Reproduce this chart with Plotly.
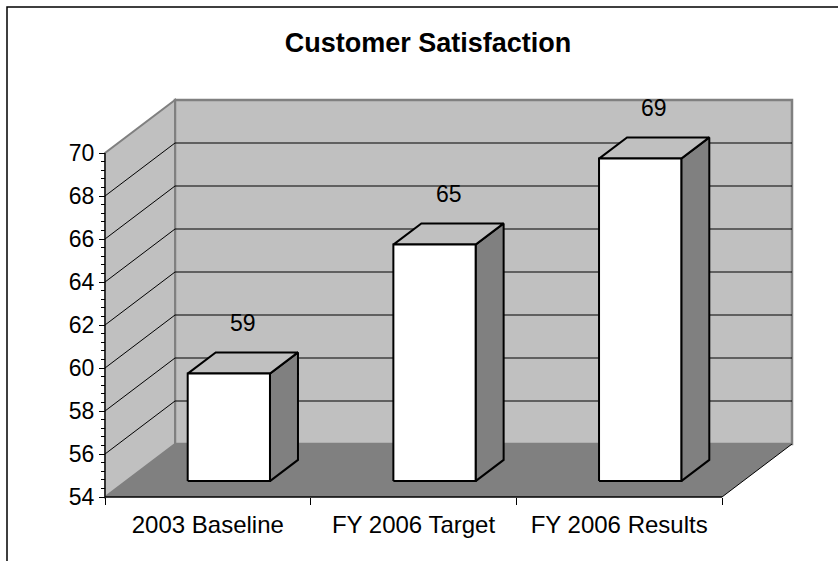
import plotly.graph_objects as go

# ---- data ----
categories = ["2003 Baseline", "FY 2006 Target", "FY 2006 Results"]
scores = [59, 65, 69]
y_ticks = [54, 56, 58, 60, 62, 64, 66, 68, 70]
y_min, y_max = 54, 70

# ---- 3D frame geometry (in axis units) ----
PX_PER_CAT = 617 / 3.0     # horizontal pixels per category slot
PX_PER_UNIT = 21.5         # vertical pixels per score point
DX = 70 / PX_PER_CAT       # depth vector, x component (category units)
DY = 53 / PX_PER_UNIT      # depth vector, y component (score units)
BAR_LO, BAR_HI = 0.3, 0.7  # bar footprint within a category slot
Z_LO, Z_HI = 0.3, 0.7      # bar footprint along depth

W, H = 838, 561
ML, MR, MT, MB = 95, 33, 90, 51
ORIGIN_PX = (105, 497)     # where (x=0, score=54) sits on screen
PW, PH = W - ML - MR, H - MT - MB

x_range = [(ML - ORIGIN_PX[0]) / PX_PER_CAT, (W - MR - ORIGIN_PX[0]) / PX_PER_CAT]
y_range = [y_min - (H - MB - ORIGIN_PX[1]) / PX_PER_UNIT,
           y_min + (ORIGIN_PX[1] - MT) / PX_PER_UNIT]

WALL = "#C0C0C0"
FLOOR = "#808080"
EDGE_GRAY = "#808080"


def proj(x, v, z):
    """Project a point (category x, score v, depth z) onto the chart plane."""
    return x + z * DX, v + z * DY


def path(points):
    pts = [proj(*p) for p in points]
    return "M " + " L ".join(f"{a},{b}" for a, b in pts) + " Z"


def seg(p0, p1, color, width, layer="below"):
    (x0, y0), (x1, y1) = proj(*p0), proj(*p1)
    return dict(type="line", xref="x", yref="y", x0=x0, y0=y0, x1=x1, y1=y1,
                line=dict(color=color, width=width), layer=layer)


n = len(categories)
shapes = []
# back wall
shapes.append(dict(type="path", xref="x", yref="y", layer="below",
                   path=path([(0, y_min, 1), (n, y_min, 1), (n, y_max, 1), (0, y_max, 1)]),
                   fillcolor=WALL, line=dict(color=EDGE_GRAY, width=2.5)))
# side wall
shapes.append(dict(type="path", xref="x", yref="y", layer="below",
                   path=path([(0, y_min, 0), (0, y_min, 1), (0, y_max, 1), (0, y_max, 0)]),
                   fillcolor=WALL, line=dict(color=EDGE_GRAY, width=2)))
# gridlines on both walls
for v in y_ticks[1:-1]:
    shapes.append(seg((0, v, 1), (n, v, 1), "black", 1))
    shapes.append(seg((0, v, 0), (0, v, 1), "black", 1))
# floor
shapes.append(dict(type="path", xref="x", yref="y", layer="below",
                   path=path([(0, y_min, 0), (n, y_min, 0), (n, y_min, 1), (0, y_min, 1)]),
                   fillcolor=FLOOR, line=dict(width=0)))
shapes.append(seg((n, y_min, 0), (n, y_min, 1), "black", 1))
# axis lines along the front edges
shapes.append(seg((0, y_min, 0), (n, y_min, 0), "black", 1.5, "above"))
shapes.append(seg((0, y_min, 0), (0, y_max, 0), "black", 1.2, "above"))

# outer chart border
shapes.append(dict(type="rect", xref="paper", yref="paper",
                   x0=(7 - ML) / PW, x1=(W + 10 - ML) / PW,
                   y0=-(MB + 12) / PH, y1=(H - MB - 7) / PH,
                   line=dict(color="black", width=1.5), fillcolor="rgba(0,0,0,0)"))

fig = go.Figure()


def face(points, color):
    pts = [proj(*p) for p in points] + [proj(*points[0])]
    fig.add_trace(go.Scatter(x=[p[0] for p in pts], y=[p[1] for p in pts],
                             mode="lines", fill="toself", fillcolor=color,
                             line=dict(color="black", width=2),
                             hoverinfo="skip", showlegend=False))


for i, v in enumerate(scores):
    x0, x1 = i + BAR_LO, i + BAR_HI
    # right side
    face([(x1, y_min, Z_LO), (x1, y_min, Z_HI), (x1, v, Z_HI), (x1, v, Z_LO)], FLOOR)
    # top
    face([(x0, v, Z_LO), (x1, v, Z_LO), (x1, v, Z_HI), (x0, v, Z_HI)], WALL)
    # front
    face([(x0, y_min, Z_LO), (x1, y_min, Z_LO), (x1, v, Z_LO), (x0, v, Z_LO)], "white")

FONT = "Liberation Sans, Arial, sans-serif"

annotations = []
for i, v in enumerate(scores):
    ax, ay = proj(i + 0.5, v, 0.5)
    annotations.append(dict(x=ax, y=ay, xref="x", yref="y", text=str(v),
                            showarrow=False, yshift=40, yanchor="middle",
                            font=dict(family=FONT, size=23, color="black")))

minor_y = [round(y_min + 0.4 * k, 1) for k in range(int((y_max - y_min) / 0.4) + 1)]

fig.update_layout(
    width=W, height=H, autosize=False,
    margin=dict(l=ML, r=MR, t=MT, b=MB, pad=0),
    paper_bgcolor="white", plot_bgcolor="white",
    title=dict(text="<b>Customer Satisfaction</b>", x=428 / W, y=1 - 43 / H,
               xref="container", yref="container",
               xanchor="center", yanchor="middle",
               font=dict(family=FONT, size=27, color="black")),
    shapes=shapes,
    annotations=annotations,
    xaxis=dict(range=x_range, anchor="free", position=(H - MB - ORIGIN_PX[1]) / PH,
               tickmode="array", tickvals=[i + 0.5 for i in range(n)], ticktext=categories,
               ticks="outside", ticklen=6, tickcolor="rgba(0,0,0,0)",
               minor=dict(tickmode="array", tickvals=list(range(n + 1)), ticks="outside",
                          ticklen=7, tickwidth=1, tickcolor="black", showgrid=False),
               showgrid=False, zeroline=False, showline=False, fixedrange=True,
               tickfont=dict(family=FONT, size=24, color="black")),
    yaxis=dict(range=y_range, anchor="free", position=(ORIGIN_PX[0] - ML) / PW,
               tickmode="array", tickvals=y_ticks, ticks="outside", ticklen=6,
               tickwidth=1, tickcolor="black",
               minor=dict(tickmode="array", tickvals=minor_y, ticks="outside",
                          ticklen=4, tickwidth=1, tickcolor="black", showgrid=False),
               showgrid=False, zeroline=False, showline=False, fixedrange=True,
               tickfont=dict(family=FONT, size=23, color="black")),
)

fig.write_html("out.html")
